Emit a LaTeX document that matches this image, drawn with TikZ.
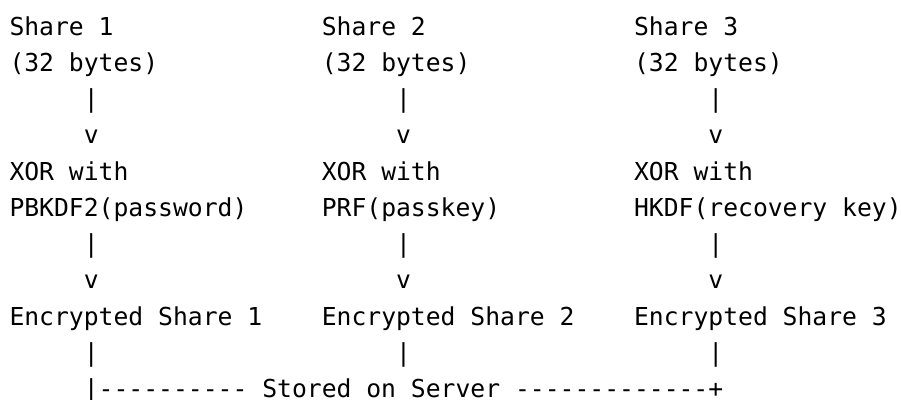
\documentclass[tikz,border=0pt]{standalone}
\usepackage{fontspec}
\setmonofont{DejaVu Sans Mono}
\begin{document}
\begin{tikzpicture}[x=14.87pt,y=-36.25pt,
  asc/.style={inner sep=0pt,outer sep=0pt,anchor=base west,text=black,
    font=\ttfamily\fontsize{24.7pt}{36.25pt}\selectfont}]
\fill[white] (-9.5pt,35pt) rectangle (891.5pt,-364pt);
\useasboundingbox (-9.5pt,35pt) rectangle (891.5pt,-364pt);
% row 0-1
\node[asc] (s1) at (0,0) {Share 1};
\node[asc] (s2) at (21,0) {Share 2};
\node[asc] (s3) at (42,0) {Share 3};
\node[asc] (b1) at (0,1) {(32 bytes)};
\node[asc] (b2) at (21,1) {(32 bytes)};
\node[asc] (b3) at (42,1) {(32 bytes)};
% arrows 1
\node[asc] (pa1) at (5,2) {|};
\node[asc] (pa2) at (26,2) {|};
\node[asc] (pa3) at (47,2) {|};
\node[asc] (va1) at (5,3) {v};
\node[asc] (va2) at (26,3) {v};
\node[asc] (va3) at (47,3) {v};
% xor
\node[asc] (x1) at (0,4) {XOR with};
\node[asc] (x2) at (21,4) {XOR with};
\node[asc] (x3) at (42,4) {XOR with};
\node[asc] (k1) at (0,5) {PBKDF2(password)};
\node[asc] (k2) at (21,5) {PRF(passkey)};
\node[asc] (k3) at (42,5) {HKDF(recovery key)};
% arrows 2
\node[asc] (pb1) at (5,6) {|};
\node[asc] (pb2) at (26,6) {|};
\node[asc] (pb3) at (47,6) {|};
\node[asc] (vb1) at (5,7) {v};
\node[asc] (vb2) at (26,7) {v};
\node[asc] (vb3) at (47,7) {v};
% encrypted
\node[asc] (e1) at (0,8) {Encrypted Share 1};
\node[asc] (e2) at (21,8) {Encrypted Share 2};
\node[asc] (e3) at (42,8) {Encrypted Share 3};
% bottom
\node[asc] (pc1) at (5,9) {|};
\node[asc] (pc2) at (26,9) {|};
\node[asc] (pc3) at (47,9) {|};
\node[asc] (srv) at (5,10) {|---------- Stored on Server -------------+};
\end{tikzpicture}
\end{document}
